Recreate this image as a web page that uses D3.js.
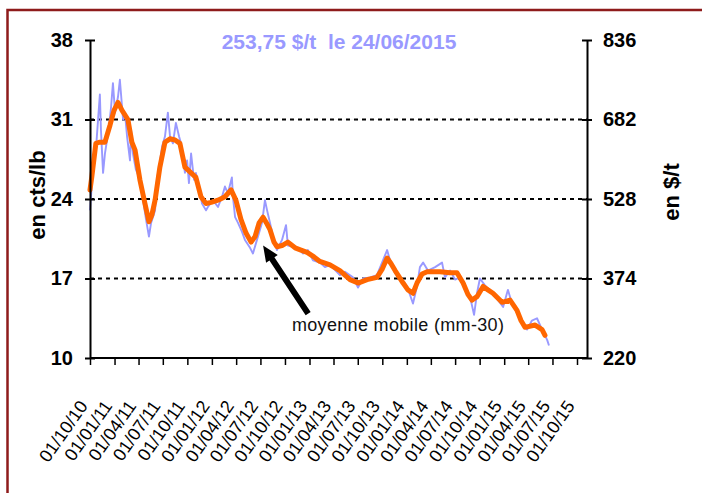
<!DOCTYPE html>
<html>
<head>
<meta charset="utf-8">
<script src="https://cdn.jsdelivr.net/npm/d3@7"></script>
<style>
  body { margin: 0; background: #fff; }
  text { font-family: "Liberation Sans", Arial, sans-serif; }
</style>
</head>
<body>
<div id="visualization"></div>
<script>
// cours journalier (cts/lb)
var rawDates = ["2010-10-01","2010-10-12","2010-10-23","2010-11-07","2010-11-11","2010-11-19","2010-11-26","2010-11-30",
  "2010-12-11","2010-12-19","2010-12-26","2011-01-03","2011-01-14","2011-01-21","2011-02-02","2011-02-09","2011-02-17",
  "2011-02-28","2011-03-04","2011-03-11","2011-03-22","2011-04-06","2011-04-18","2011-04-29","2011-05-10","2011-05-18",
  "2011-06-02","2011-06-09","2011-06-20","2011-06-28","2011-07-09","2011-07-20","2011-07-28","2011-08-08","2011-08-19",
  "2011-08-31","2011-09-07","2011-09-22","2011-09-30","2011-10-07","2011-10-15","2011-10-26","2011-11-02","2011-11-17",
  "2011-11-25","2011-12-10","2011-12-17","2012-01-05","2012-01-24","2012-02-08","2012-02-19","2012-03-01","2012-03-16",
  "2012-03-20","2012-03-28","2012-04-08","2012-04-23","2012-05-04","2012-05-23","2012-06-03","2012-06-18","2012-07-07",
  "2012-07-18","2012-07-26","2012-08-06","2012-08-17","2012-09-01","2012-09-20","2012-10-05","2012-10-12","2012-10-31",
  "2012-11-19","2012-12-08","2012-12-26","2013-01-14","2013-02-09","2013-02-28","2013-03-19","2013-04-25","2013-05-14",
  "2013-06-13","2013-07-02","2013-07-21","2013-08-16","2013-09-11","2013-09-30","2013-10-19","2013-10-30","2013-11-18",
  "2013-12-14","2014-01-02","2014-01-24","2014-02-08","2014-02-19","2014-03-03","2014-03-21","2014-04-17","2014-05-13",
  "2014-05-24","2014-06-12","2014-07-01","2014-07-19","2014-08-07","2014-08-26","2014-09-10","2014-09-21","2014-10-02",
  "2014-10-21","2014-11-16","2014-12-09","2014-12-28","2015-01-15","2015-01-30","2015-02-18","2015-03-09","2015-03-28",
  "2015-04-15","2015-05-04","2015-05-23","2015-06-11","2015-06-18"];
var rawValues = [23.0,26.6,28.3,33.2,30.1,26.3,28.0,28.6,
  30.3,32.1,34.2,31.6,33.0,34.5,31.0,31.6,29.5,
  27.4,30.1,28.0,26.6,25.7,23.9,22.2,20.7,21.9,
  23.0,25.7,27.2,28.6,29.5,31.6,29.5,28.9,30.7,
  29.5,28.9,26.3,27.4,25.4,28.0,25.7,26.3,24.8,
  23.6,23.0,23.3,23.9,23.3,24.2,25.1,24.5,25.9,
  24.2,22.4,21.9,21.1,20.4,19.7,19.2,20.4,21.9,
  23.9,23.0,21.9,20.7,19.5,20.4,21.7,19.9,19.8,
  19.7,19.2,19.5,18.6,18.4,18.0,18.2,17.3,17.6,
  17.1,16.2,17.0,17.1,17.3,18.4,19.5,18.6,17.5,
  16.9,16.3,14.8,16.3,18.0,18.4,17.7,18.0,18.4,
  17.1,17.7,16.9,17.1,16.0,15.4,13.8,15.7,17.0,
  16.4,15.7,15.1,14.5,16.0,14.8,14.0,13.1,12.5,
  13.3,13.5,12.5,11.6,11.1];

// moyenne mobile 30 jours (cts/lb)
var mmDates = ["2010-10-01","2010-10-08","2010-10-23","2010-11-07","2010-11-26","2010-12-15","2010-12-30","2011-01-14",
  "2011-01-29","2011-02-20","2011-03-07","2011-03-19","2011-04-06","2011-04-25","2011-05-10","2011-05-21","2011-06-02",
  "2011-06-20","2011-07-09","2011-07-28","2011-08-16","2011-09-03","2011-09-22","2011-10-15","2011-11-02","2011-11-21",
  "2011-12-10","2011-12-29","2012-01-24","2012-02-19","2012-03-13","2012-03-31","2012-04-19","2012-05-08","2012-05-27",
  "2012-06-11","2012-06-26","2012-07-11","2012-07-26","2012-08-06","2012-08-21","2012-09-01","2012-09-20","2012-10-12",
  "2012-11-08","2012-11-30","2012-12-23","2013-01-18","2013-02-09","2013-03-19","2013-04-25","2013-05-14","2013-06-02",
  "2013-07-02","2013-08-05","2013-09-11","2013-09-30","2013-10-19","2013-11-03","2013-11-18","2013-12-18","2014-01-05",
  "2014-01-24","2014-02-08","2014-02-27","2014-03-18","2014-05-05","2014-06-12","2014-07-08","2014-07-31","2014-08-18",
  "2014-09-02","2014-09-21","2014-10-14","2014-11-01","2014-11-20","2014-12-24","2015-01-23","2015-02-18","2015-03-05",
  "2015-03-20","2015-04-27","2015-05-23","2015-06-03"];
var mmValues = [24.8,26.0,28.9,29.0,29.0,30.5,31.8,32.5,
  31.8,31.0,29.0,28.3,25.7,23.6,22.0,22.6,23.9,
  26.8,29.0,29.3,29.2,28.9,26.8,26.3,25.9,24.2,
  23.6,23.7,23.9,24.2,24.8,23.9,22.2,21.0,20.2,
  20.7,21.9,22.4,21.8,21.3,20.2,19.8,19.9,20.2,
  19.7,19.5,19.3,18.9,18.5,18.2,17.7,17.3,16.9,
  16.6,16.9,17.1,17.8,18.8,18.3,17.7,16.6,16.0,
  15.7,16.6,17.4,17.6,17.6,17.5,17.5,16.6,15.6,
  15.1,15.4,16.3,16.0,15.7,14.9,15.1,14.2,13.3,
  12.7,12.9,12.5,12.0];

var xTickLabels = ["01/10/10","01/01/11","01/04/11","01/07/11","01/10/11","01/01/12","01/04/12","01/07/12",
  "01/10/12","01/01/13","01/04/13","01/07/13","01/10/13","01/01/14","01/04/14","01/07/14","01/10/14",
  "01/01/15","01/04/15","01/07/15","01/10/15"];
var yTicksLeft = [10, 17, 24, 31, 38];
var yTicksRight = [220, 374, 528, 682, 836];
var gridValues = [17, 24, 31];

var titleText = "253,75 $/t  le 24/06/2015";
var noteText = "moyenne mobile (mm-30)";
var arrowFrom = ["2012-12-27", 13.9];
var arrowTo = ["2012-07-11", 19.9];
var notePos = ["2012-10-27", 12.35];

//////////////////////////////////////////////////////////////////////////////

var parseIso = d3.timeParse("%Y-%m-%d");
var parseTick = d3.timeParse("%d/%m/%y");

var margin = { top: 40, left: 90 };
var width = 497;
var height = 318;

var svg = d3.select("#visualization").append("svg")
  .attr("width", 702)
  .attr("height", 493);

// cadre
svg.append("rect")
  .attr("x", 7.5).attr("y", 10)
  .attr("width", 720).attr("height", 520)
  .attr("fill", "none")
  .attr("stroke", "#8e1b1b")
  .attr("stroke-width", 2.5);

var g = svg.append("g")
  .attr("transform", "translate(" + margin.left + "," + margin.top + ")");

var xScale = d3.scaleTime()
  .domain([parseTick(xTickLabels[0]), parseTick(xTickLabels[xTickLabels.length - 1])])
  .range([0, 487]);

var yLeft = d3.scaleLinear().domain([10, 38]).range([height, 0]);
var yRight = d3.scaleLinear().domain([220, 836]).range([height, 0]);

// grille pointillée
g.selectAll(".grid")
  .data(gridValues)
  .enter()
  .append("line")
  .attr("x1", 0).attr("x2", width)
  .attr("y1", function(d) { return yLeft(d); })
  .attr("y2", function(d) { return yLeft(d); })
  .attr("stroke", "#000")
  .attr("stroke-width", 2)
  .attr("stroke-dasharray", "4,4");

// séries
var rawData = rawDates.map(function(d, i) { return { date: parseIso(d), value: rawValues[i] }; });
var mmData = mmDates.map(function(d, i) { return { date: parseIso(d), value: mmValues[i] }; });

var line = d3.line()
  .x(function(d) { return xScale(d.date); })
  .y(function(d) { return yLeft(d.value); });

g.append("path")
  .datum(rawData)
  .attr("d", line)
  .attr("fill", "none")
  .attr("stroke", "#9999ff")
  .attr("stroke-width", 1.9)
  .attr("stroke-linejoin", "round");

g.append("path")
  .datum(mmData)
  .attr("d", line)
  .attr("fill", "none")
  .attr("stroke", "#ff6600")
  .attr("stroke-width", 5)
  .attr("stroke-linejoin", "round")
  .attr("stroke-linecap", "round");

// axe gauche
var axisL = g.append("g")
  .call(d3.axisLeft(yLeft).tickValues(yTicksLeft).tickSizeInner(5).tickSizeOuter(0).tickPadding(12));
axisL.select(".domain").attr("stroke-width", 2);
axisL.selectAll(".tick line").attr("x1", -5).attr("x2", 5).attr("stroke-width", 2);
axisL.selectAll("text").style("font-size", "20px").style("font-weight", "bold").attr("fill", "#000");

// axe droit
var axisR = g.append("g")
  .attr("transform", "translate(" + width + ",0)")
  .call(d3.axisRight(yRight).tickValues(yTicksRight).tickSizeInner(5).tickSizeOuter(0).tickPadding(11));
axisR.select(".domain").attr("stroke-width", 2);
axisR.selectAll(".tick line").attr("x1", -5).attr("x2", 5).attr("stroke-width", 2);
axisR.selectAll("text").style("font-size", "20px").style("font-weight", "bold").attr("fill", "#000");

// axe des dates
var axisX = g.append("g")
  .attr("transform", "translate(0," + height + ")")
  .call(d3.axisBottom(xScale)
    .tickValues(xTickLabels.map(parseTick))
    .tickFormat(d3.timeFormat("%d/%m/%y"))
    .tickSizeInner(7).tickSizeOuter(0));
axisX.select(".domain").remove();
axisX.append("line")
  .attr("x1", 0).attr("x2", width)
  .attr("stroke", "#000").attr("stroke-width", 2);
axisX.selectAll(".tick line").attr("stroke-width", 1.5);
axisX.selectAll("text")
  .style("font-size", "18px")
  .attr("fill", "#000")
  .style("text-anchor", "end")
  .attr("x", 0).attr("y", 0).attr("dy", 0)
  .attr("transform", "translate(-2,48) rotate(-55)");

// titres d'axes
g.append("text")
  .attr("transform", "translate(" + (-45) + "," + (height / 2 - 4) + ") rotate(-90)")
  .attr("text-anchor", "middle")
  .style("font-size", "22px").style("font-weight", "bold")
  .text("en cts/lb");

g.append("text")
  .attr("transform", "translate(" + (width + 92) + "," + (height / 2 - 7) + ") rotate(-90)")
  .attr("text-anchor", "middle")
  .style("font-size", "22px").style("font-weight", "bold")
  .text("en $/t");

// dernier cours
g.append("text")
  .attr("x", 249).attr("y", 9)
  .attr("text-anchor", "middle")
  .style("font-size", "21px").style("font-weight", "bold")
  .style("white-space", "pre")
  .attr("fill", "#9999ff")
  .text(titleText);

// flèche + légende
var x0 = xScale(parseIso(arrowFrom[0])), y0 = yLeft(arrowFrom[1]);
var x1 = xScale(parseIso(arrowTo[0])), y1 = yLeft(arrowTo[1]);
var ang = Math.atan2(y1 - y0, x1 - x0);
var headLen = 16, headW = 7, shaft = 3;
var bx = x1 - headLen * Math.cos(ang), by = y1 - headLen * Math.sin(ang);
var px = -Math.sin(ang), py = Math.cos(ang);
var arrowPts = [
  [x0 + px * shaft, y0 + py * shaft],
  [bx + px * shaft, by + py * shaft],
  [bx + px * headW, by + py * headW],
  [x1, y1],
  [bx - px * headW, by - py * headW],
  [bx - px * shaft, by - py * shaft],
  [x0 - px * shaft, y0 - py * shaft]
];
g.append("path")
  .attr("d", "M" + arrowPts.join("L") + "Z")
  .attr("fill", "#000");

g.append("text")
  .attr("x", xScale(parseIso(notePos[0])))
  .attr("y", yLeft(notePos[1]))
  .style("font-size", "18px")
  .attr("textLength", 212)
  .attr("fill", "#111")
  .text(noteText);
</script>
</body>
</html>
